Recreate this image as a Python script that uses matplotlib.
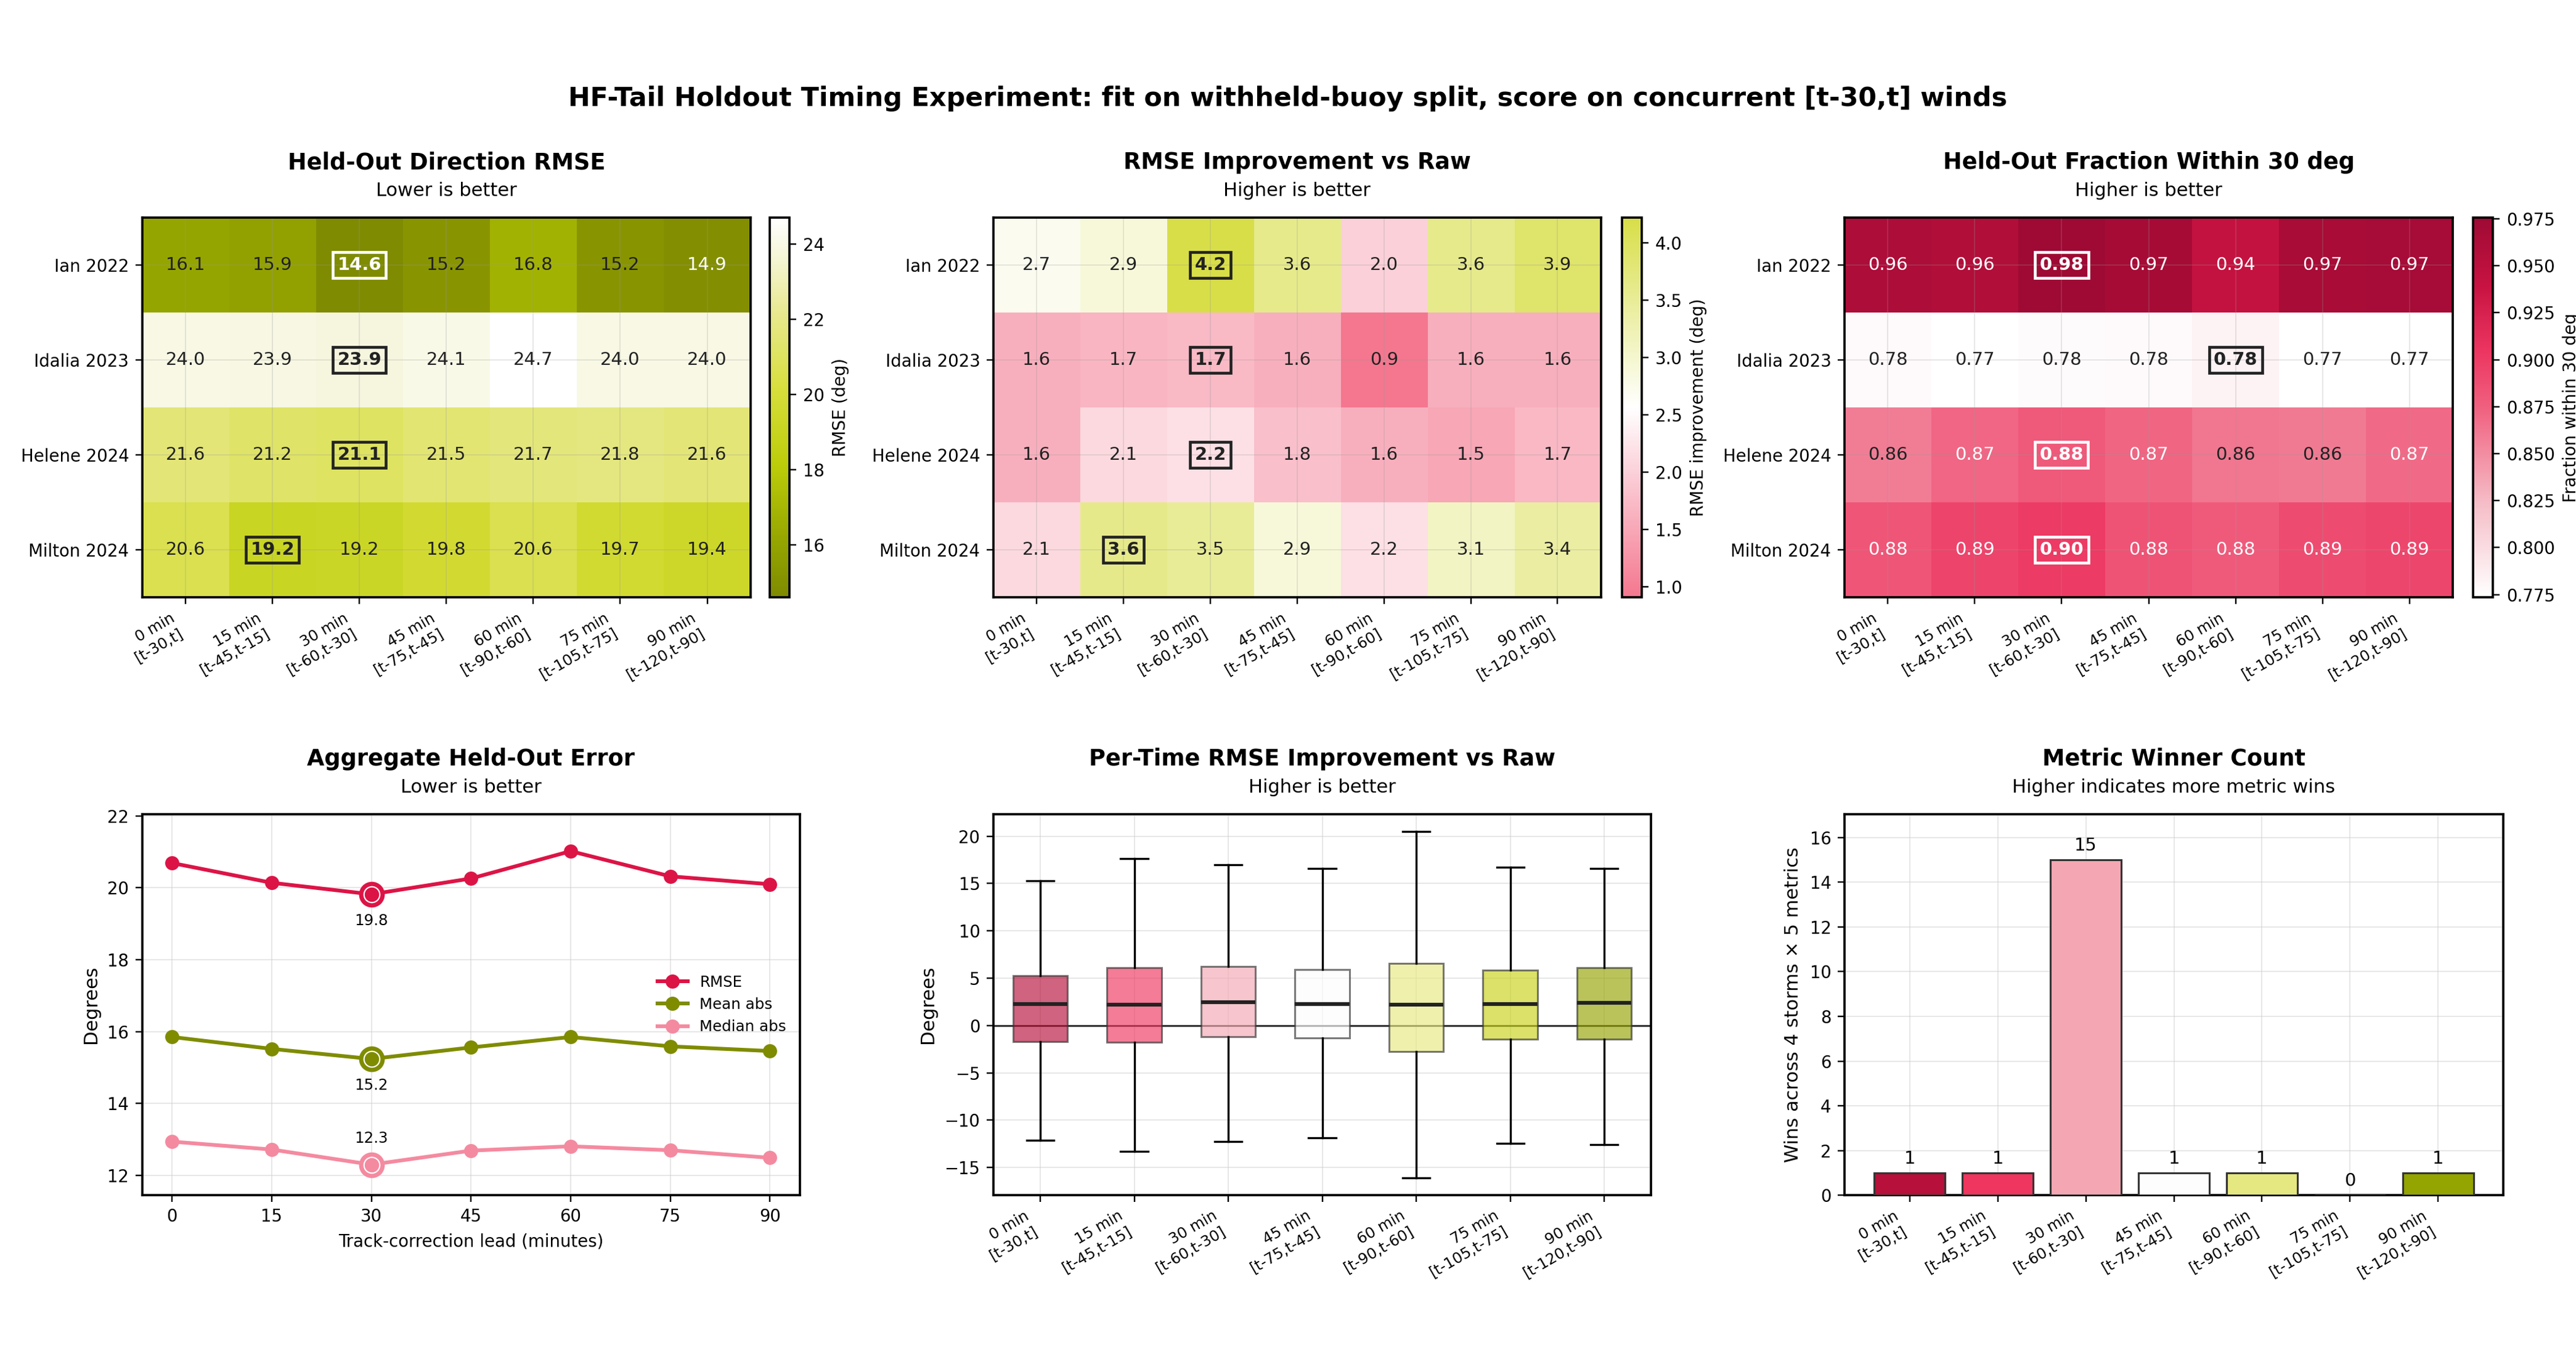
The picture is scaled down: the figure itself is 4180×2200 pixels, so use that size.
import numpy as np
import matplotlib
matplotlib.use("Agg")
import matplotlib.pyplot as plt
from matplotlib.colors import LinearSegmentedColormap

# ---- data ----
storms = ["Ian 2022", "Idalia 2023", "Helene 2024", "Milton 2024"]
leads = [0, 15, 30, 45, 60, 75, 90]
windows = ["[t-30,t]", "[t-45,t-15]", "[t-60,t-30]", "[t-75,t-45]",
           "[t-90,t-60]", "[t-105,t-75]", "[t-120,t-90]"]

heldout_rmse = [
    [16.1, 15.9, 14.6, 15.2, 16.8, 15.2, 14.9],
    [24.0, 23.94, 23.86, 24.1, 24.7, 24.0, 24.0],
    [21.6, 21.2, 21.1, 21.5, 21.7, 21.8, 21.6],
    [20.6, 19.16, 19.22, 19.8, 20.6, 19.7, 19.4],
]
rmse_improvement = [
    [2.7, 2.9, 4.22, 3.6, 2.0, 3.6, 3.9],
    [1.6, 1.68, 1.72, 1.6, 0.91, 1.6, 1.6],
    [1.6, 2.1, 2.2, 1.8, 1.6, 1.5, 1.7],
    [2.1, 3.62, 3.5, 2.9, 2.2, 3.1, 3.4],
]
frac_within30 = [
    [0.962, 0.958, 0.9756, 0.968, 0.942, 0.966, 0.967],
    [0.778, 0.7735, 0.776, 0.777, 0.783, 0.7735, 0.774],
    [0.858, 0.871, 0.879, 0.872, 0.862, 0.860, 0.869],
    [0.882, 0.894, 0.900, 0.884, 0.878, 0.889, 0.892],
]

agg_rmse = [20.69, 20.14, 19.82, 20.26, 21.02, 20.32, 20.10]
agg_mean_abs = [15.85, 15.52, 15.24, 15.56, 15.85, 15.59, 15.46]
agg_median_abs = [12.94, 12.72, 12.30, 12.69, 12.81, 12.70, 12.49]

box_lo = [-12.1, -13.3, -12.26, -11.84, -16.09, -12.44, -12.56]
box_q1 = [-1.73, -1.80, -1.17, -1.32, -2.78, -1.47, -1.47]
box_med = [2.26, 2.18, 2.48, 2.29, 2.18, 2.26, 2.41]
box_q3 = [5.26, 6.13, 6.24, 5.90, 6.58, 5.83, 6.13]
box_hi = [15.3, 17.63, 16.95, 16.58, 20.49, 16.69, 16.58]

winner_counts = [1, 1, 15, 1, 1, 0, 1]

# ---- styling ----
palette = ["#b7103a", "#ef365e", "#f4a7b2", "#fdfdfd", "#e5e880", "#c8d218", "#94a400"]
c_rmse, c_mean, c_median = "#dc1446", "#7f8c00", "#f48aa0"
dark = "#222222"

cmap_rmse = LinearSegmentedColormap.from_list("olive_white", [
    (0.0, "#7f8b00"), (0.15, "#96a600"), (0.35, "#bccd0a"), (0.55, "#d7de3c"),
    (0.75, "#e8e98f"), (0.92, "#f7f7e1"), (1.0, "#ffffff")])
cmap_impr = LinearSegmentedColormap.from_list("pink_white_yellow", [
    (0.0, "#f4778f"), (0.5, "#ffffff"), (1.0, "#d8de48")])
cmap_frac = LinearSegmentedColormap.from_list("white_crimson", [
    (0.0, "#ffffff"), (0.25, "#f5bcc6"), (0.5, "#f0607f"), (0.65, "#ec3560"),
    (0.82, "#c81342"), (1.0, "#9e0a34")])

plt.rcParams["font.family"] = "DejaVu Sans"
plt.rcParams["axes.linewidth"] = 1.2

fig = plt.figure(figsize=(19, 10), dpi=220)
fig.suptitle("HF-Tail Holdout Timing Experiment: fit on withheld-buoy split, score on concurrent [t-30,t] winds",
             fontsize=14, fontweight="bold", y=0.937)

xticklabels = [f"{l} min\n{w}" for l, w in zip(leads, windows)]


def titles(ax, title, sub):
    ax.text(0.5, 1.145, title, transform=ax.transAxes, ha="center", va="center",
            fontsize=12, fontweight="bold")
    ax.text(0.5, 1.07, sub, transform=ax.transAxes, ha="center", va="center", fontsize=10)


def heatmap(pos, cpos, data, cmap, label, title, sub, best_fn, white_fn):
    ax = fig.add_axes(pos)
    cax = fig.add_axes(cpos)
    arr = np.array(data)
    im = ax.imshow(arr, cmap=cmap, aspect="auto", vmin=arr.min(), vmax=arr.max())
    ax.set_xticks(range(len(leads)))
    ax.set_xticklabels(xticklabels, rotation=30, ha="right", fontsize=8)
    ax.set_yticks(range(len(storms)))
    ax.set_yticklabels(storms, fontsize=9)
    ax.grid(True, color="#999999", alpha=0.25, linewidth=0.6)
    for i in range(arr.shape[0]):
        best = best_fn(arr[i])
        for j in range(arr.shape[1]):
            v = arr[i, j]
            col = "white" if white_fn(v) else dark
            txt = f"{v:.2f}" if arr.max() < 1.5 else f"{v:.1f}"
            if j == best:
                ax.text(j, i, txt, ha="center", va="center", fontsize=9.5, color=col,
                        fontweight="bold",
                        bbox=dict(boxstyle="square,pad=0.25", facecolor="none",
                                  edgecolor=col, linewidth=1.5))
            else:
                ax.text(j, i, txt, ha="center", va="center", fontsize=9.5, color=col)
    cb = fig.colorbar(im, cax=cax)
    cb.set_label(label, fontsize=9)
    cb.ax.tick_params(labelsize=9)
    titles(ax, title, sub)
    return ax


heatmap([0.0552, 0.5595, 0.2362, 0.28], [0.2987, 0.5595, 0.0078, 0.28],
        heldout_rmse, cmap_rmse, "RMSE (deg)", "Held-Out Direction RMSE", "Lower is better",
        np.argmin, lambda v: v < 15.0)
heatmap([0.3856, 0.5595, 0.2359, 0.28], [0.6296, 0.5595, 0.0078, 0.28],
        rmse_improvement, cmap_impr, "RMSE improvement (deg)", "RMSE Improvement vs Raw",
        "Higher is better", np.argmax, lambda v: False)
heatmap([0.716, 0.5595, 0.2362, 0.28], [0.960, 0.5595, 0.0078, 0.28],
        frac_within30, cmap_frac, "Fraction within 30 deg", "Held-Out Fraction Within 30 deg",
        "Higher is better", np.argmax, lambda v: v > 0.865)

# ---- aggregate line chart ----
ax4 = fig.add_axes([0.0552, 0.1186, 0.2553, 0.281])
for series, col, name, off in [(agg_rmse, c_rmse, "RMSE", -14),
                               (agg_mean_abs, c_mean, "Mean abs", -14),
                               (agg_median_abs, c_median, "Median abs", 14)]:
    ax4.plot(leads, series, "-o", color=col, lw=2, ms=6.5, label=name, zorder=3)
    b = int(np.argmin(series))
    ax4.scatter([leads[b]], [series[b]], s=160, color=col, zorder=4)
    ax4.scatter([leads[b]], [series[b]], s=70, color=col, edgecolor="white", linewidth=0.7, zorder=5)
    ax4.annotate(f"{series[b]:.1f}", (leads[b], series[b]), textcoords="offset points",
                 xytext=(0, off), ha="center", va="center", fontsize=8)
ax4.set_xticks(leads)
ax4.set_ylim(11.45, 22.05)
ax4.set_xlabel("Track-correction lead (minutes)", fontsize=9)
ax4.set_ylabel("Degrees", fontsize=10)
ax4.tick_params(labelsize=9)
ax4.grid(True, color="#cccccc", alpha=0.5, linewidth=0.6)
ax4.legend(loc="center right", frameon=False, fontsize=8)
titles(ax4, "Aggregate Held-Out Error", "Lower is better")

# ---- per-time boxplot ----
ax5 = fig.add_axes([0.3856, 0.1186, 0.2554, 0.281])
stats = [dict(whislo=lo, q1=q1, med=md, q3=q3, whishi=hi, fliers=[])
         for lo, q1, md, q3, hi in zip(box_lo, box_q1, box_med, box_q3, box_hi)]
bp = ax5.bxp(stats, positions=range(len(leads)), widths=0.58, patch_artist=True, showfliers=False,
             medianprops=dict(color=dark, linewidth=2),
             whiskerprops=dict(color="black", linewidth=1.1),
             capprops=dict(color="black", linewidth=1.1))
for patch, col in zip(bp["boxes"], palette):
    patch.set_facecolor(col)
    patch.set_alpha(0.65)
    patch.set_edgecolor("#333333")
ax5.axhline(0, color="#333333", linewidth=1.0, zorder=1)
ax5.set_xticks(range(len(leads)))
ax5.set_xticklabels(xticklabels, rotation=30, ha="right", fontsize=8)
ax5.set_ylabel("Degrees", fontsize=10)
ax5.tick_params(axis="y", labelsize=9)
ax5.grid(True, color="#cccccc", alpha=0.5, linewidth=0.6)
ax5.set_axisbelow(True)
titles(ax5, "Per-Time RMSE Improvement vs Raw", "Higher is better")

# ---- winner count bars ----
ax6 = fig.add_axes([0.716, 0.1186, 0.2558, 0.281])
bars = ax6.bar(range(len(leads)), winner_counts, width=0.8, color=palette,
               edgecolor="#333333", linewidth=1.0, zorder=3)
for rect, n in zip(bars, winner_counts):
    ax6.text(rect.get_x() + rect.get_width() / 2, n + 0.25, str(n), ha="center", va="bottom",
             fontsize=9.5)
ax6.set_ylim(0, 17.05)
ax6.set_xticks(range(len(leads)))
ax6.set_xticklabels(xticklabels, rotation=30, ha="right", fontsize=8)
ax6.set_ylabel("Wins across 4 storms \u00d7 5 metrics", fontsize=10)
ax6.tick_params(axis="y", labelsize=9)
ax6.grid(True, color="#cccccc", alpha=0.5, linewidth=0.6)
ax6.set_axisbelow(True)
titles(ax6, "Metric Winner Count", "Higher indicates more metric wins")

fig.savefig("out.png", dpi=220)
